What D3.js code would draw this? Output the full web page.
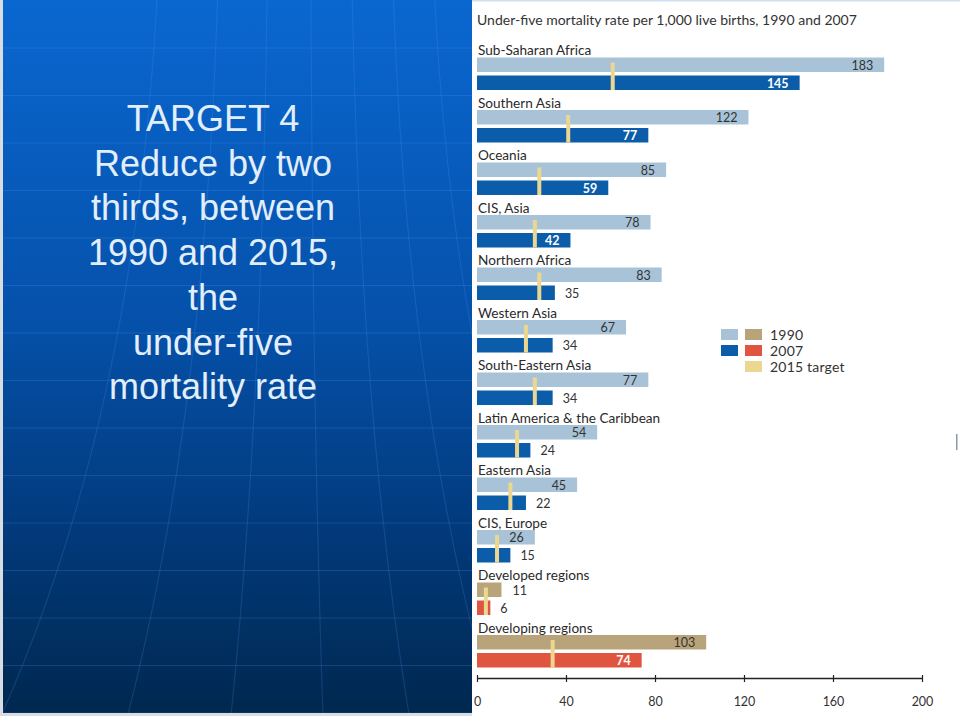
<!DOCTYPE html>
<html><head><meta charset="utf-8">
<script src="https://cdn.jsdelivr.net/npm/d3@7"></script>
<style>
html,body{margin:0;padding:0;background:#fff;}
svg{display:block;}
</style></head>
<body>
<svg id="c" width="960" height="716"></svg>
<script>
const categories = ["Sub-Saharan Africa","Southern Asia","Oceania","CIS, Asia","Northern Africa","Western Asia","South-Eastern Asia","Latin America & the Caribbean","Eastern Asia","CIS, Europe","Developed regions","Developing regions"];
const values1990 = [183,122,85,78,83,67,77,54,45,26,11,103];
const values2007 = [145,77,59,42,35,34,34,24,22,15,6,74];
const target2015 = [61,41,28,26,28,22,26,18,15,9,4,34];
const aggregateGroups = ["Developed regions","Developing regions"];
const xTicks = [0,40,80,120,160,200];
const legendLabels = ["1990","2007","2015 target"];
const slideLines = ["TARGET 4","Reduce by two","thirds, between","1990 and 2015,","the","under-five","mortality rate"];
const chartTitle = "Under-five mortality rate per 1,000 live births, 1990 and 2007";

const C = {lb:"#a8c3d7", db:"#0b5ca9", tan:"#b8a37a", red:"#df5540", tgt:"#ebd78f"};

const svg = d3.select("#c");
const defs = svg.append("defs");
const g = defs.append("linearGradient").attr("id","bg").attr("x1",0).attr("y1",0).attr("x2",0).attr("y2",1);
g.append("stop").attr("offset","0%").attr("stop-color","#0a67d0");
g.append("stop").attr("offset","45%").attr("stop-color","#0551aa");
g.append("stop").attr("offset","75%").attr("stop-color","#02397a");
g.append("stop").attr("offset","100%").attr("stop-color","#00284f");

// left slide panel
svg.append("rect").attr("x",0).attr("y",0).attr("width",472).attr("height",716).attr("fill","#d8dde3");
svg.append("rect").attr("x",3).attr("y",0).attr("width",469).attr("height",713).attr("fill","url(#bg)");
const deco = svg.append("g").attr("clip-path","url(#lp)");
defs.append("clipPath").attr("id","lp").append("rect").attr("x",3).attr("y",0).attr("width",469).attr("height",713);
for(let k=0;k<15;k++){
  const y = 48 + k*47.5;
  deco.append("line").attr("x1",3).attr("x2",472).attr("y1",y).attr("y2",y)
    .attr("stroke","#5aa0ff").attr("stroke-opacity",0.2).attr("stroke-width",1);
}
const mers = [-260,-150,-60,20,95,170,245,320,400,480];
mers.forEach(m=>{
  const xt = 300 + m*0.55, xb = 300 + m*1.15;
  deco.append("path").attr("d",`M${xt},0 Q${xt+ (xb-xt)*0.15},420 ${xb},716`)
    .attr("fill","none").attr("stroke","#5aa0ff").attr("stroke-opacity",0.18).attr("stroke-width",1.2);
});
const st = svg.append("g");
slideLines.forEach((t,i)=>{
  st.append("text").attr("x",213).attr("y",131+i*44.7).attr("text-anchor","middle")
    .attr("font-family","Liberation Sans, Arial, sans-serif").attr("font-size",36)
    .attr("fill","#e2eefa").text(t);
});

// right panel
svg.append("rect").attr("x",472).attr("y",0).attr("width",488).attr("height",716).attr("fill","#fff");
svg.append("rect").attr("x",472).attr("y",0).attr("width",488).attr("height",1.5).attr("fill","#cfe0ee");

const font = "Lato, 'Open Sans', sans-serif";
const x = d3.scaleLinear().domain([0,200]).range([477,922]);
const y = d3.scaleBand().domain(categories).range([42.5,672.5]);

svg.append("text").attr("x",477).attr("y",25).attr("font-family",font).attr("font-size",14)
  .attr("fill","#333").text(chartTitle);

categories.forEach((cat,i)=>{
  const top = y(cat);
  const agg = aggregateGroups.includes(cat);
  const grp = svg.append("g");
  grp.append("text").attr("x",478).attr("y",top+12.5).attr("font-family",font).attr("font-size",13.6)
    .attr("fill","#2a2a2a").text(cat);
  const v1 = values1990[i], v2 = values2007[i], t = target2015[i];
  grp.append("rect").attr("x",x(0)).attr("y",top+15).attr("width",x(v1)-x(0)).attr("height",14.5)
    .attr("fill",agg?C.tan:C.lb);
  grp.append("rect").attr("x",x(0)).attr("y",top+33).attr("width",x(v2)-x(0)).attr("height",14.5)
    .attr("fill",agg?C.red:C.db);
  grp.append("rect").attr("x",x(t)-2).attr("y",top+20).attr("width",4).attr("height",27.5)
    .attr("fill",C.tgt);
  const in1 = v1 >= 20;
  grp.append("text").attr("x",in1?x(v1)-11:x(v1)+11).attr("y",top+27)
    .attr("text-anchor",in1?"end":"start").attr("font-family",font).attr("font-size",12.5)
    .attr("fill","#333").text(v1);
  const in2 = v2 >= 40;
  grp.append("text").attr("x",in2?x(v2)-11:x(v2)+10).attr("y",top+45)
    .attr("text-anchor",in2?"end":"start").attr("font-family",font).attr("font-size",12.5)
    .attr("font-weight",in2?"bold":"normal")
    .attr("fill",in2?"#fff":"#333").text(v2);
});

// axis
const ax = svg.append("g").attr("transform","translate(0,678)")
  .call(d3.axisBottom(x).tickValues(xTicks).tickSize(4).tickSizeOuter(0).tickPadding(15));
ax.select(".domain").attr("stroke","#222").attr("stroke-width",1.5);
ax.selectAll(".tick line").attr("stroke","#222").attr("stroke-width",1.2).attr("y1",-3);
ax.selectAll(".tick text").attr("font-family",font).attr("font-size",12.5).attr("fill","#333");

// legend
const lg = svg.append("g");
const legRows = [[C.lb,C.tan],[C.db,C.red],[null,C.tgt]];
legRows.forEach((r,i)=>{
  const yy = 329 + i*16;
  if(r[0]) lg.append("rect").attr("x",721).attr("y",yy).attr("width",17).attr("height",11).attr("fill",r[0]);
  lg.append("rect").attr("x",745).attr("y",yy).attr("width",17).attr("height",11).attr("fill",r[1]);
  lg.append("text").attr("x",770).attr("y",yy+11).attr("font-family",font).attr("font-size",14)
    .attr("fill","#333").attr("letter-spacing",0.2).text(legendLabels[i]);
});
// small edge marks
svg.append("rect").attr("x",956).attr("y",434).attr("width",1.5).attr("height",16).attr("fill","#8a9aa8");
</script>
</body></html>
